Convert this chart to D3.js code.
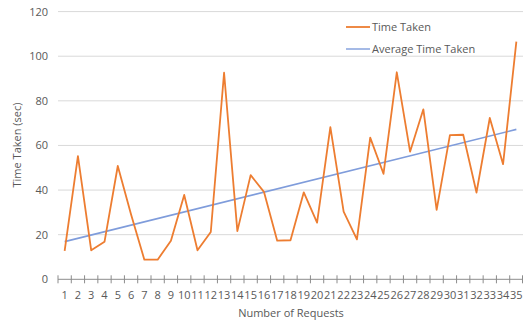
<!DOCTYPE html>
<html><head><meta charset="utf-8">
<script src="https://cdn.jsdelivr.net/npm/d3@7"></script>
<style>body{margin:0;background:#fff}svg{display:block}text{font-family:"Open Sans",sans-serif;fill:#595959}</style>
</head><body><svg id="c" width="523" height="320"></svg>
<script>
const categories = d3.range(1, 36).map(String);
const timeTaken = [12.7,55.2,13,16.8,50.8,29,8.8,8.8,17.3,37.8,13,21.2,92.6,21.6,46.7,39.2,17.3,17.5,39,25.4,68.2,30.3,17.9,63.5,47.3,92.8,57.2,76.2,31.1,64.6,64.8,38.9,72.3,51.6,106.5];
const averageEnds = [{cat:"1", v:16.9},{cat:"35", v:67.2}];
const yTicks = [0,20,40,60,80,100,120];
const seriesNames = ["Time Taken","Average Time Taken"];

const svg = d3.select("#c");
const x = d3.scaleBand().domain(categories).range([58, 523]);
const y = d3.scaleLinear().domain([0,120]).range([279.3, 11.6]);
const cx = c => x(c) + x.bandwidth()/2;

// gridlines
svg.append("g").selectAll("line").data(yTicks.filter(d=>d>0)).join("line")
  .attr("x1",58).attr("x2",523).attr("y1",d=>y(d)).attr("y2",d=>y(d))
  .attr("stroke","#d9d9d9").attr("stroke-width",1);
// y labels
svg.append("g").selectAll("text").data(yTicks).join("text")
  .attr("x",48).attr("y",d=>y(d)+4).attr("text-anchor","end")
  .attr("font-size",11).text(d=>d);
// x axis line
svg.append("line").attr("x1",58).attr("x2",523).attr("y1",y(0)).attr("y2",y(0))
  .attr("stroke","#8c8c8c").attr("stroke-width",1);
// ticks at boundaries
const bounds = categories.map(c=>x(c)).concat([x.range()[1]-0.5]);
svg.append("g").selectAll("line").data(bounds).join("line")
  .attr("x1",d=>d).attr("x2",d=>d).attr("y1",y(0)-4).attr("y2",y(0)+4)
  .attr("stroke","#8c8c8c").attr("stroke-width",1);
// x labels
svg.append("g").selectAll("text").data(categories).join("text")
  .attr("x",c=>cx(c)).attr("y",299).attr("text-anchor","middle")
  .attr("font-size",11).text(c=>c);
// axis titles
svg.append("text").attr("x",291).attr("y",317).attr("text-anchor","middle")
  .attr("font-size",11).text("Number of Requests");
svg.append("text").attr("transform","translate(21,145) rotate(-90)").attr("text-anchor","middle")
  .attr("font-size",11).text("Time Taken (sec)");

// average line
svg.append("path").datum(averageEnds)
  .attr("d", d3.line().x(d=>cx(d.cat)).y(d=>y(d.v)))
  .attr("fill","none").attr("stroke","#7f9cdb").attr("stroke-width",1.6);
// time taken line
svg.append("path").datum(timeTaken)
  .attr("d", d3.line().x((d,i)=>cx(categories[i])).y(d=>y(d)))
  .attr("fill","none").attr("stroke","#ed7d31").attr("stroke-width",1.8).attr("stroke-linejoin","round");

// legend
const leg = svg.append("g");
const legColors = ["#ed7d31","#7f9cdb"];
seriesNames.forEach((n,i)=>{
  const ly = 27 + i*22;
  leg.append("line").attr("x1",346).attr("x2",370).attr("y1",ly).attr("y2",ly)
    .attr("stroke",legColors[i]).attr("stroke-width",i?1.4:1.8);
  leg.append("text").attr("x",372).attr("y",ly+4).attr("font-size",11).text(n);
});
</script></body></html>
